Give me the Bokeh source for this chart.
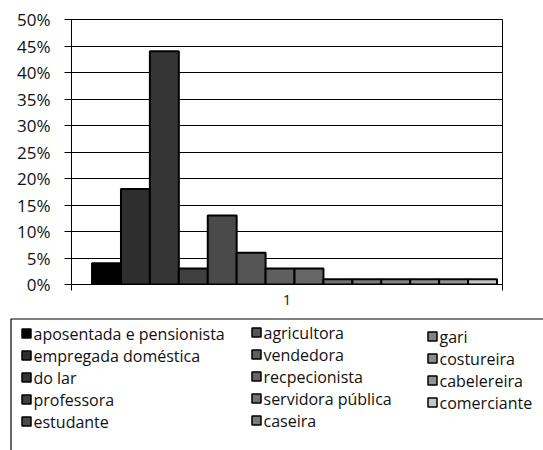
from bokeh.plotting import figure
from bokeh.layouts import column
from bokeh.models import Range1d, FixedTicker, ColumnDataSource
from bokeh.core.properties import value
from bokeh.embed import file_html
from bokeh.resources import INLINE

# Occupation shares (fraction of respondents)
occupations = [
    "aposentada e pensionista", "empregada doméstica", "do lar", "professora",
    "estudante", "agricultora", "vendedora", "recpecionista",
    "servidora pública", "caseira", "gari", "costureira",
    "cabelereira", "comerciante",
]
shares = [0.04, 0.18, 0.44, 0.03, 0.13, 0.06, 0.03, 0.03,
          0.01, 0.01, 0.01, 0.01, 0.01, 0.01]
fills = ["#000000", "#2e2e2e", "#353535", "#404040", "#4a4a4a", "#555555",
         "#5f5f5f", "#666666", "#727272", "#7a7a7a", "#838383", "#8b8b8b",
         "#939393", "#c6c6c6"]
category_label = "1"
y_ticks = [0.0, 0.05, 0.10, 0.15, 0.20, 0.25, 0.30, 0.35, 0.40, 0.45, 0.50]
y_tick_labels = ["0%", "5%", "10%", "15%", "20%", "25%", "30%", "35%",
                 "40%", "45%", "50%"]

FONT = "Open Sans"
W = 543
CHART_H = 312
LEGEND_H = 138

n = len(shares)
x_start, x_end = -1.21, n - 1 + 0.69

src = ColumnDataSource(dict(x=list(range(n)), top=shares, fill=fills,
                            name=occupations))

p = figure(width=W, height=CHART_H, output_backend="svg",
           toolbar_location=None,
           x_range=Range1d(x_start, x_end), y_range=Range1d(0, 0.5),
           min_border_left=71, min_border_right=41,
           min_border_top=19, min_border_bottom=28)
p.frame_align = False
p.background_fill_color = "white"
p.border_fill_color = "white"
p.outline_line_color = "black"
p.outline_line_width = 1

p.vbar(x="x", top="top", bottom=0, width=1.0, source=src,
       fill_color="fill", line_color="black", line_width=2)

# y axis: percentages with outward ticks
p.yaxis.ticker = FixedTicker(ticks=y_ticks, minor_ticks=[])
p.yaxis.major_label_overrides = {t: lab for t, lab in zip(y_ticks, y_tick_labels)}
p.yaxis.major_tick_out = 7
p.yaxis.major_tick_in = 0
p.yaxis.axis_line_color = "black"
p.yaxis.major_tick_line_color = "black"
p.yaxis.major_label_text_font = FONT
p.yaxis.major_label_text_font_size = "17px"
p.yaxis.major_label_text_color = "#111111"
p.yaxis.major_label_standoff = 14

# x axis: single category, boundary ticks at both ends
mid = (x_start + x_end) / 2
p.xaxis.ticker = FixedTicker(ticks=[mid], minor_ticks=[x_start, x_end])
p.xaxis.major_label_overrides = {mid: category_label}
p.xaxis.major_tick_out = 0
p.xaxis.major_tick_in = 0
p.xaxis.minor_tick_out = 6
p.xaxis.minor_tick_in = 0
p.xaxis.minor_tick_line_color = "black"
p.xaxis.axis_line_color = "black"
p.xaxis.major_label_text_font = FONT
p.xaxis.major_label_text_font_size = "14px"
p.xaxis.major_label_text_color = "#111111"
p.xaxis.major_label_standoff = 4

p.ygrid.ticker = FixedTicker(ticks=y_ticks)
p.ygrid.grid_line_color = "black"
p.ygrid.grid_line_width = 1
p.xgrid.visible = False

# Legend panel drawn in pixel-like coordinates (y grows downward)
lg = figure(width=W, height=LEGEND_H, output_backend="svg",
            toolbar_location=None,
            x_range=Range1d(0, W), y_range=Range1d(LEGEND_H, 0),
            min_border=0, x_axis_type=None, y_axis_type=None)
lg.frame_align = False
lg.outline_line_color = None
lg.background_fill_color = "white"
lg.border_fill_color = "white"
lg.xgrid.visible = False
lg.ygrid.visible = False

# frame of the legend box (runs off the right and bottom edges)
lg.line(x=[10.5, 10.5, W + 5], y=[LEGEND_H + 5, 6.5, 6.5],
        line_color="black", line_width=1.2)

col_x = [21, 251, 427]
col_y0 = [21, 20, 24]
row_step = 22
per_col = 5
sq_x, sq_y, tx, ty = [], [], [], []
for i in range(n):
    c, r = divmod(i, per_col)
    yc = col_y0[c] + r * row_step
    sq_x.append(col_x[c] + 5)
    sq_y.append(yc)
    tx.append(col_x[c] + 12)
    ty.append(yc)

lsrc = ColumnDataSource(dict(sx=sq_x, sy=sq_y, tx=tx, ty=ty,
                             fill=fills, name=occupations))
lg.rect(x="sx", y="sy", width=9, height=9, source=lsrc,
        fill_color="fill", line_color="black", line_width=1.5)
lg.text(x="tx", y="ty", text="name", source=lsrc,
        text_font=value(FONT), text_font_size="16px",
        text_baseline="middle", text_align="left", text_color="#111111")

layout = column(p, lg, spacing=0)

with open("out.html", "w") as f:
    f.write(file_html(layout, INLINE))
